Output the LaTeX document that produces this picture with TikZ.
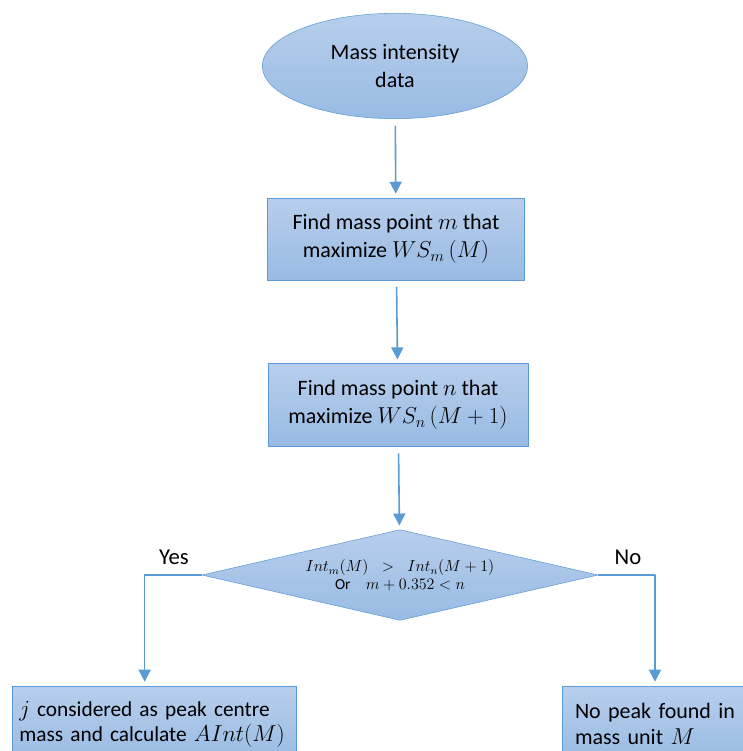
\documentclass[tikz,border=0pt]{standalone}
\usepackage{fontspec}
\setmainfont{Carlito}
\usetikzlibrary{shapes.geometric,arrows.meta}
\definecolor{boxline}{RGB}{91,155,213}
\definecolor{boxtop}{RGB}{184,206,236}
\definecolor{boxbot}{RGB}{152,187,228}
\tikzset{
  stepshape/.style={draw=boxline, thin, top color=boxtop, bottom color=boxbot, font=\fontsize{16.5}{21}\selectfont},
  procbox/.style={stepshape, rectangle, inner sep=0pt, align=center},
  flowarrow/.style={draw=boxline, line width=1.2pt, -{Triangle[length=9pt,width=9pt]}, shorten <=5pt, shorten >=3pt}
}
\begin{document}
\begin{tikzpicture}[x=0.75pt, y=-0.75pt, line join=round]
	\useasboundingbox (0,0) rectangle (743,751);
	\clip (0,0) rectangle (743,751);
	\node[stepshape, ellipse, minimum width=199pt, minimum height=79pt, align=center, inner sep=0pt] (data) at (395,66) {Mass intensity\\data};
	\node[procbox, minimum width=193pt, minimum height=61.5pt] (findm) at (396,239) {Find mass point \(m\) that\\maximize \(WS_m\,(M)\)};
	\node[procbox, minimum width=195pt, minimum height=62pt] (findn) at (398,405) {Find mass point \(n\) that\\maximize \(WS_n\,(M+1)\)};
	\node[stepshape, diamond, aspect=4.35, inner sep=0pt, minimum width=297pt, minimum height=68pt, align=center, font=\fontsize{11.5}{13}\selectfont] (test) at (400,575) {\(Int_m(M)\;\;>\;\;Int_n(M+1)\)\\Or\quad \(m+0.352<n\)};
	\node[procbox, minimum width=213pt, minimum height=57pt, text width=202pt, align=left, font=\fontsize{16}{19}\selectfont] (peak) at (154,724) {\(j\) considered as peak centre\\mass and calculate~\(AInt(M)\)};
	\node[procbox, minimum width=139.5pt, minimum height=57pt, text width=120pt, align=left, font=\fontsize{16.5}{19}\selectfont] (nopeak) at (655,724) {No peak found in\\mass unit \(M\)};
	\node[font=\fontsize{17}{20}\selectfont] (yes) at (174,557) {Yes};
	\node[font=\fontsize{17}{20}\selectfont] (no) at (628,557) {No};
	% connectors
	\draw[flowarrow] (data) -- (findm);
	\draw[flowarrow] (findm) -- (findn);
	\draw[flowarrow] (findn) -- (test);
	\draw[flowarrow, shorten <=0pt] (test.west) -| ([xshift=-7]peak.north);
	\draw[flowarrow, shorten <=0pt] (test.east) -| (nopeak.north);
\end{tikzpicture}
\end{document}
